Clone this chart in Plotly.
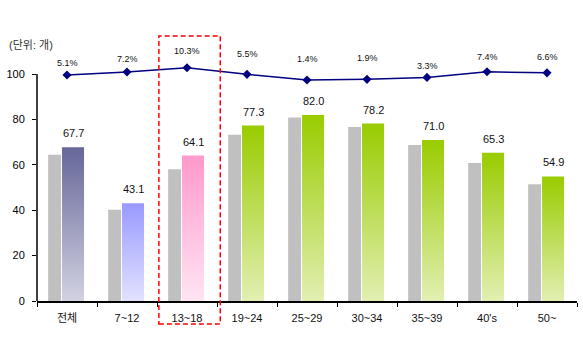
import plotly.graph_objects as go

# Age groups and values (unit: count)
categories = ["전체", "7~12", "13~18", "19~24", "25~29", "30~34", "35~39", "40's", "50~"]
prev_values = [64.4, 40.2, 58.1, 73.3, 80.9, 76.7, 68.7, 60.8, 51.5]
curr_values = [67.7, 43.1, 64.1, 77.3, 82.0, 78.2, 71.0, 65.3, 54.9]
growth_pct = [5.1, 7.2, 10.3, 5.5, 1.4, 1.9, 3.3, 7.4, 6.6]
y_tick_vals = [0, 20, 40, 60, 80, 100]

# Styling
FONT = "Liberation Sans, Arial, Noto Sans CJK KR, sans-serif"
GRAY = "#c0c0c0"
# (top colour, bottom colour) of the vertical gradient for each highlighted bar
bar_gradients = [
    ("#666699", "#d2d2e2"),
    ("#9999ff", "#e2e2ff"),
    ("#ff99cc", "#ffe4f2"),
] + [("#99cc00", "#e2efb2")] * 6
pct_label_lift = [12, 13, 17, 20, 21, 21, 11, 15, 16]

x_idx = list(range(len(categories)))
GRAY_OFFSET, GRAY_WIDTH = -0.314, 0.215
CURR_LEFT, CURR_RIGHT = -0.083, 0.284

fig = go.Figure()

# Previous-period bars (plain gray)
fig.add_trace(go.Bar(
    x=x_idx, y=prev_values, width=GRAY_WIDTH, offset=GRAY_OFFSET,
    marker=dict(color=GRAY, line=dict(width=0)), showlegend=False,
    hoverinfo="y",
))

# Current-period bars with vertical gradient fills
for i, (v, (top, bottom)) in enumerate(zip(curr_values, bar_gradients)):
    x0, x1 = i + CURR_LEFT, i + CURR_RIGHT
    fig.add_trace(go.Scatter(
        x=[x0, x1, x1, x0, x0], y=[0, 0, v, v, 0],
        mode="lines", line=dict(width=0), fill="toself",
        fillgradient=dict(type="vertical", colorscale=[[0, bottom], [1, top]]),
        showlegend=False, hoverinfo="skip",
    ))

# Growth-rate line on a hidden secondary axis
fig.add_trace(go.Scatter(
    x=x_idx, y=growth_pct, yaxis="y2", mode="lines+markers",
    line=dict(color="#000080", width=1.5),
    marker=dict(symbol="diamond", size=7, color="#000080"),
    showlegend=False, cliponaxis=False,
))

annotations = []
mid = (CURR_LEFT + CURR_RIGHT) / 2
for i, v in enumerate(curr_values):
    annotations.append(dict(
        x=i + mid, y=v, xref="x", yref="y", text=f"{v:.1f}",
        showarrow=False, yanchor="middle", yshift=14,
        font=dict(family=FONT, size=11, color="#111111"),
    ))
for i, (p, lift) in enumerate(zip(growth_pct, pct_label_lift)):
    annotations.append(dict(
        x=i, y=p, xref="x", yref="y2", text=f"{p:.1f}%",
        showarrow=False, yanchor="middle", yshift=lift,
        font=dict(family=FONT, size=9, color="#111111"),
    ))
annotations.append(dict(
    x=-0.055, y=0.938, xref="paper", yref="paper", text="(단위: 개)",
    showarrow=False, xanchor="left", yanchor="middle",
    font=dict(family=FONT, size=11, color="#333333"),
))

shapes = [
    # Vertical axis line running from 0 up to 100
    dict(type="line", xref="paper", yref="y", x0=0, x1=0, y0=0, y1=100,
         line=dict(color="black", width=1.5)),
    # Dashed highlight around the 13~18 group
    dict(type="rect", xref="paper", yref="paper",
         x0=0.2257, x1=0.3394, y0=-0.084, y1=0.971,
         line=dict(color="#ff0000", width=1.5, dash="5px,3px"),
         fillcolor="rgba(0,0,0,0)"),
]

fig.update_layout(
    width=583, height=340,
    margin=dict(l=32, r=6, t=28, b=39),
    paper_bgcolor="white", plot_bgcolor="white",
    font=dict(family=FONT, size=11, color="black"),
    barmode="overlay",
    showlegend=False,
    annotations=annotations,
    shapes=shapes,
    xaxis=dict(
        range=[-0.5, 8.5], tickmode="array", tickvals=x_idx, ticktext=categories,
        ticks="", showgrid=False, zeroline=False,
        showline=True, linecolor="black", linewidth=1.5,
        ticklabelstandoff=6,
        tickfont=dict(family=FONT, size=11, color="#111111"),
        minor=dict(ticks="outside", ticklen=4, tickwidth=1, tickcolor="black",
                   tick0=-0.5, dtick=1, showgrid=False),
    ),
    yaxis=dict(
        range=[0, 120.3], tickmode="array", tickvals=y_tick_vals,
        ticks="outside", ticklen=4, tickwidth=1, tickcolor="black",
        showgrid=False, zeroline=False, showline=False,
        ticklabelstandoff=5,
        tickfont=dict(family=FONT, size=11, color="black"),
    ),
    yaxis2=dict(
        range=[-158.7, 39.1], overlaying="y", side="right", visible=False,
        showgrid=False, zeroline=False,
    ),
)

fig.write_html("out.html")
